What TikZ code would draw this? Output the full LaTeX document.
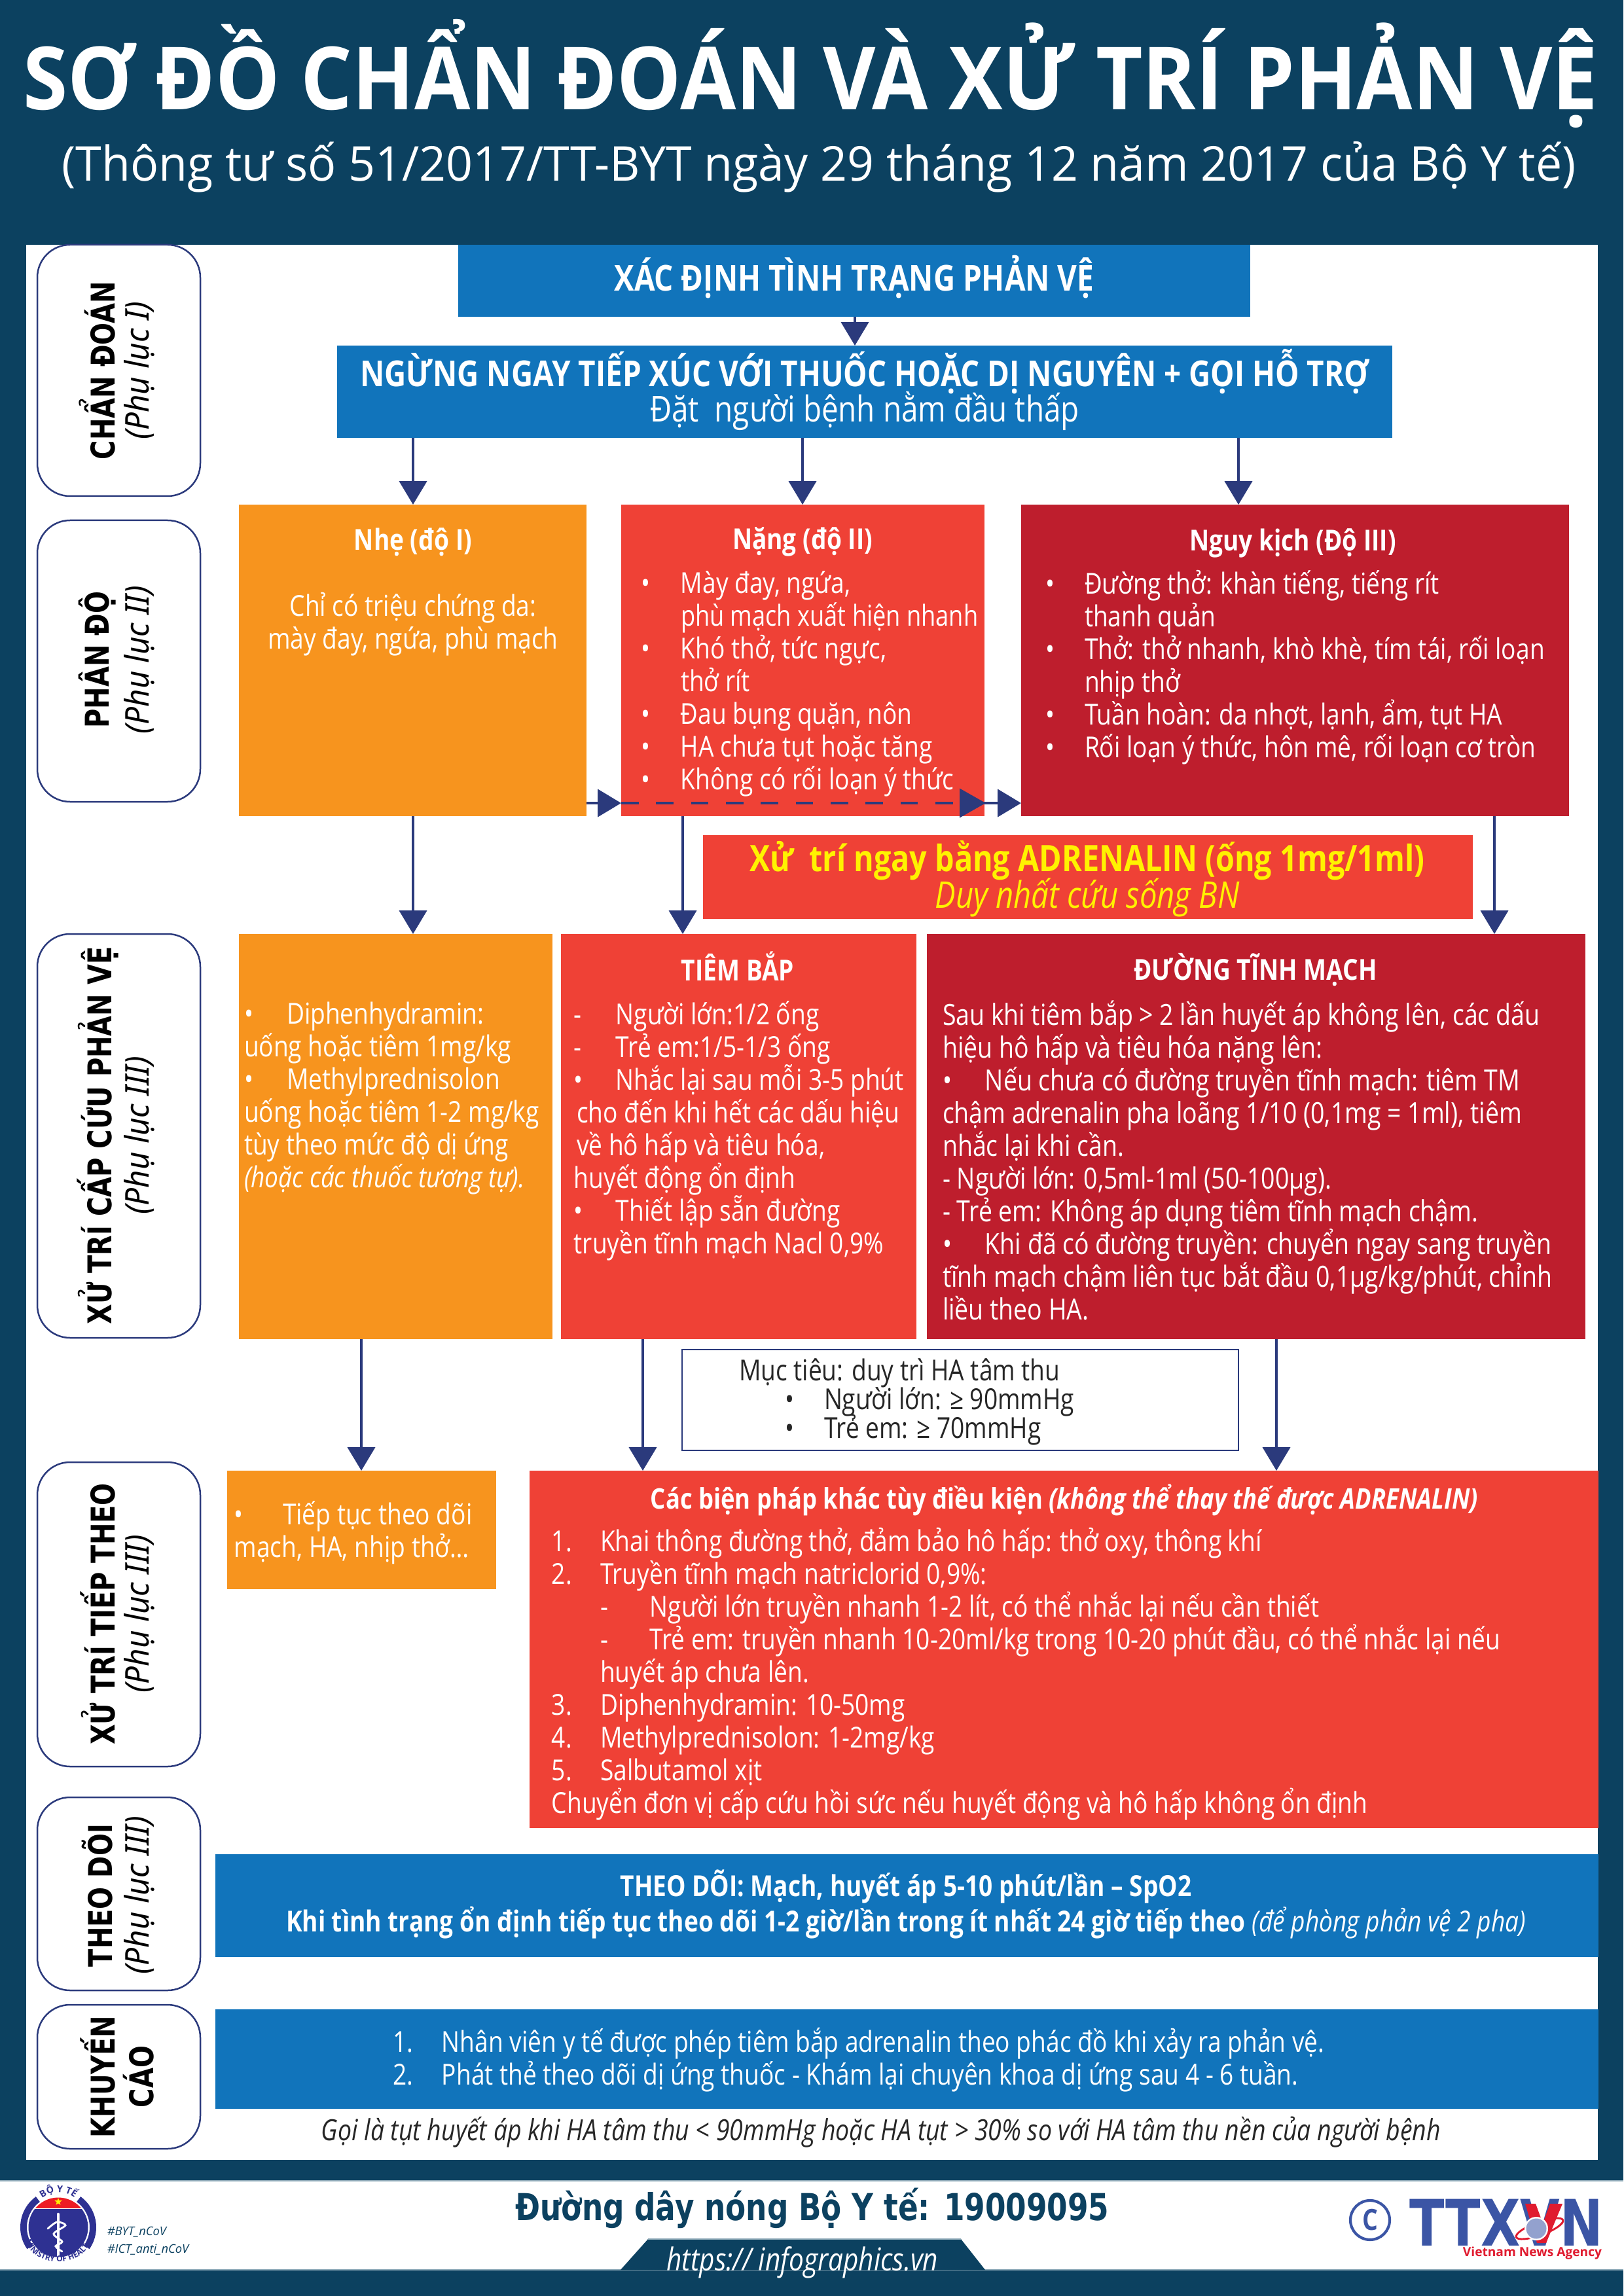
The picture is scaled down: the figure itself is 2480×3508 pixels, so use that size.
\documentclass[tikz,border=0pt]{standalone}
\usepackage{fontspec}
\usepackage{graphicx}
\usetikzlibrary{arrows.meta,decorations.text,shapes.geometric}
\setmainfont{Open Sans}[FakeStretch=0.84]
\newfontfamily\wideb{DejaVu Sans}[FakeStretch=0.8]
\newfontfamily\notoi{Noto Sans}[FakeStretch=0.95]
\newfontfamily\titlef{Open Sans}[FakeStretch=0.928]
\newfontfamily\subf{Open Sans}[FakeStretch=0.977]
\newfontfamily\plainf{Open Sans}
\definecolor{dk}{HTML}{0C4160}
\definecolor{org}{HTML}{F7941E}
\definecolor{rd}{HTML}{EF4136}
\definecolor{drd}{HTML}{BE1E2D}
\definecolor{blu}{HTML}{1174BB}
\definecolor{nvy}{HTML}{2B3A7C}
\definecolor{ylw}{HTML}{FFF200}
\definecolor{foot}{HTML}{8FAAB8}
\definecolor{logob}{HTML}{3B55A5}
\definecolor{logor}{HTML}{E01B2F}
\definecolor{mohb}{HTML}{2E3192}
\definecolor{mohr}{HTML}{ED1C24}
\lineskiplimit=-30pt
\newcommand{\bodyfont}{\fontsize{10.6}{12}\selectfont}
\newcommand{\bytfont}{\plainf\bfseries\fontsize{3.4}{4}\selectfont\color{mohb}}
\newcommand{\mohfont}{\plainf\bfseries\fontsize{2.9}{4}\selectfont\color{mohb}}
\tikzset{
  px/.style={x=0.24pt,y=-0.24pt},
  fbox/.style={fill=#1,draw=none,inner sep=0pt,outer sep=0pt},
  pill/.style={draw=nvy,line width=0.6pt,rounded corners=12pt,fill=white,inner sep=0pt,outer sep=0pt},
  arr/.style={draw=nvy,line width=1.15pt,-{Triangle[length=8.6pt,width=10pt,fill=nvy]},shorten >=0pt},
  dasharr/.style={draw=nvy,line width=1.15pt,dash pattern=on 6.4pt off 6.4pt},
  txt/.style={inner sep=0pt,outer sep=0pt,anchor=north west,align=left,text=white,font=\bodyfont,yshift=-1pt},
  txtd/.style={txt,text=black!85},
  ctr/.style={inner sep=0pt,outer sep=0pt,anchor=center,align=center,text=white},
  ttl/.style={ctr,font=\fontsize{10.6}{12}\selectfont\bfseries},
  lab/.style={inner sep=0pt,outer sep=0pt,rotate=90,anchor=center,text=black,font=\wideb\fontsize{12}{14}\selectfont\bfseries},
  lab2/.style={inner sep=0pt,outer sep=0pt,rotate=90,anchor=center,text=black,font=\notoi\fontsize{12}{14}\selectfont\itshape},
}
\newcommand{\bx}[6]{%
  \pgfmathsetmacro\myw{(#5-#3)*0.24}\pgfmathsetmacro\myh{(#6-#4)*0.24}%
  \node[#2,minimum width=\myw pt,minimum height=\myh pt,anchor=north west] (#1) at (#3,#4) {};}
\newcommand{\bl}[1]{\leavevmode\llap{\makebox[#1][l]{•}}}
\begin{document}
\begin{tikzpicture}[px]
\useasboundingbox (0,0) rectangle (2480,3508);
\fill[dk] (0,0) rectangle (2480,3508);
% panel
\bx{panel}{fbox=white}{40}{374}{2441}{3300}
% title
\node[inner sep=0pt,outer sep=0pt,anchor=base,text=white,font=\titlef\fontsize{32}{36}\selectfont\bfseries] (title) at (1238,168) {SƠ ĐỒ CHẨN ĐOÁN VÀ XỬ TRÍ PHẢN VỆ};
\node[inner sep=0pt,outer sep=0pt,anchor=base,text=white,font=\subf\fontsize{17.6}{22}\selectfont] (subtitle) at (1251,277) {(Thông tư số 51/2017/TT-BYT ngày 29 tháng 12 năm 2017 của Bộ Y tế)};
% pills
\bx{p1}{pill}{57}{374}{306}{758}
\bx{p2}{pill}{57}{795}{306}{1225}
\bx{p3}{pill}{57}{1427}{306}{2044}
\bx{p4}{pill}{57}{2234}{306}{2699}
\bx{p5}{pill}{57}{2746}{306}{3041}
\bx{p6}{pill}{57}{3063}{306}{3283}
\node[lab] (l1a) at (149,566) {CHẨN ĐOÁN};
\node[lab2] (l1b) at (213,566) {(Phụ lục I)};
\node[lab] (l2a) at (149,1008) {PHÂN ĐỘ};
\node[lab2] (l2b) at (213,1008) {(Phụ lục II)};
\node[lab] (l3a) at (149,1735) {XỬ TRÍ CẤP CỨU PHẢN VỆ};
\node[lab2] (l3b) at (213,1735) {(Phụ lục III)};
\node[lab] (l4a) at (149,2466) {XỬ TRÍ TIẾP THEO};
\node[lab2] (l4b) at (213,2466) {(Phụ lục III)};
\node[lab] (l5a) at (149,2896) {THEO DÕI};
\node[lab2] (l5b) at (213,2896) {(Phụ lục III)};
\node[lab] (l6a) at (149,3173) {KHUYẾN};
\node[lab] (l6b) at (212,3173) {CÁO};
% boxes
\bx{b1}{fbox=blu}{700}{374}{1910}{484}
\bx{b2}{fbox=blu}{515}{528}{2127}{669}
\bx{nhe}{fbox=org}{365}{771}{896}{1247}
\bx{nang}{fbox=rd}{949}{771}{1504}{1247}
\bx{nguy}{fbox=drd}{1560}{771}{2397}{1247}
\bx{adr}{fbox=rd}{1074}{1276}{2250}{1404}
\bx{or2}{fbox=org}{365}{1427}{844}{2046}
\bx{tb}{fbox=rd}{857}{1427}{1400}{2046}
\bx{tm}{fbox=drd}{1416}{1427}{2422}{2046}
\bx{muc}{draw=nvy,line width=0.5pt,fill=white,inner sep=0pt,outer sep=0pt}{1042}{2062}{1892}{2216}
\bx{tt}{fbox=org}{347}{2247}{758}{2428}
\bx{bp}{fbox=rd}{809}{2247}{2442}{2793}
\bx{td}{fbox=blu}{329}{2833}{2442}{2990}
\bx{kc}{fbox=blu}{329}{3070}{2442}{3222}
% connector x positions
\coordinate (xa) at (1306,0);
\coordinate (xb) at (631,0);
\coordinate (xc) at (1226,0);
\coordinate (xd) at (1892,0);
\coordinate (xe) at (1043,0);
\coordinate (xf) at (2283,0);
\coordinate (xg) at (552,0);
\coordinate (xh) at (982,0);
\coordinate (xi) at (1950,0);
\coordinate (yh) at (0,1227);
\draw[arr] (b1.south -| xa) -- (b2.north -| xa);
\draw[arr] (b2.south -| xb) -- (nhe.north -| xb);
\draw[arr] (b2.south -| xc) -- (nang.north -| xc);
\draw[arr] (b2.south -| xd) -- (nguy.north -| xd);
\draw[arr] (nhe.south -| xb) -- (or2.north -| xb);
\draw[arr] (nang.south -| xe) -- (tb.north -| xe);
\draw[arr] (nguy.south -| xf) -- (tm.north -| xf);
\draw[arr] (or2.south -| xg) -- (tt.north -| xg);
\draw[arr] (tb.south -| xh) -- (bp.north -| xh);
\draw[arr] (tm.south -| xi) -- (bp.north -| xi);
\draw[arr] (nhe.east |- yh) -- (nang.west |- yh);
\draw[dasharr] (nang.west |- yh) -- (nang.east |- yh);
\draw[nvy,fill=nvy] (1467,1206) -- (1504,1227) -- (1467,1248) -- cycle;
\draw[arr] (nang.east |- yh) -- (nguy.west |- yh);
% box texts
\node[ctr,font=\fontsize{13.1}{14}\selectfont\bfseries] (t1) at (1305,423) {XÁC ĐỊNH TÌNH TRẠNG PHẢN VỆ};
\node[ctr,font=\fontsize{13.1}{14}\selectfont\bfseries] (t2a) at (1321,568) {NGỪNG NGAY TIẾP XÚC VỚI THUỐC HOẶC DỊ NGUYÊN + GỌI HỖ TRỢ};
\node[ctr,font=\fontsize{13.1}{14}\selectfont] (t2b) at (1321,628) {Đặt\ \ người bệnh nằm đầu thấp};
\node[ttl] (t3) at (631,828) {Nhẹ (độ I)};
\node[txt,align=center,anchor=north] (t3b) at (631,901) {\strut Chỉ có triệu chứng da:\\mày đay, ngứa, phù mạch};
\node[ttl] (t4) at (1226,828) {Nặng (độ II)};
\node[txt] (t4b) at (1040,867) {\strut\bl{14.6pt}Mày đay, ngứa,\\\scalebox{.975}[1]{phù mạch xuất hiện nhanh}\\\bl{14.6pt}Khó thở, tức ngực,\\thở rít\\\bl{14.6pt}Đau bụng quặn, nôn\\\bl{14.6pt}HA chưa tụt hoặc tăng\\\bl{14.6pt}Không có rối loạn ý thức};
\node[ttl] (t5) at (1975,830) {Nguy kịch (Độ III)};
\node[txt] (t5b) at (1657,867) {\strut\bl{14.4pt}Đường thở: khàn tiếng, tiếng rít\\thanh quản\\\bl{14.4pt}Thở: thở nhanh, khò khè, tím tái, rối loạn\\nhịp thở\\\bl{14.4pt}Tuần hoàn: da nhợt, lạnh, ẩm, tụt HA\\\bl{14.4pt}Rối loạn ý thức, hôn mê, rối loạn cơ tròn};
\node[ctr,text=ylw,font=\fontsize{13.35}{14}\selectfont\bfseries] (t6a) at (1661,1315) {Xử\ \ trí ngay bằng ADRENALIN (ống 1mg/1ml)};
\node[ctr,text=ylw,font=\fontsize{13.5}{14}\selectfont\itshape] (t6b) at (1661,1371) {Duy nhất cứu sống BN};
% row 3
\node[txt] (t7) at (438,1525) {\strut\bl{15.6pt}Diphenhydramin:\\\hspace*{-15.6pt}uống hoặc tiêm 1mg/kg\\\bl{15.6pt}Methylprednisolon\\\hspace*{-15.6pt}uống hoặc tiêm 1-2 mg/kg\\\hspace*{-15.6pt}tùy theo mức độ dị ứng\\\hspace*{-15.6pt}\textit{(hoặc các thuốc tương tự).}};
\node[ttl] (t8) at (1127,1476) {TIÊM BẮP};
\node[txt] (t8b) at (941,1525) {\strut\llap{\makebox[15.4pt][l]{-}}Người lớn:1/2 ống\\\llap{\makebox[15.4pt][l]{-}}Trẻ em:1/5-1/3 ống\\\bl{15.4pt}Nhắc lại sau mỗi 3-5 phút\\\hspace*{-14.4pt}cho đến khi hết các dấu hiệu\\\hspace*{-14.4pt}về hô hấp và tiêu hóa,\\\hspace*{-15.4pt}huyết động ổn định\\\bl{15.4pt}Thiết lập sẵn đường\\\hspace*{-15.4pt}truyền tĩnh mạch Nacl 0,9\%};
\node[ttl] (t9) at (1918,1482) {ĐƯỜNG TĨNH MẠCH};
\node[txt,font=\fontsize{10.7}{12}\selectfont] (t9b) at (1440,1525) {\strut Sau khi tiêm bắp > 2 lần huyết áp không lên, các dấu\\hiệu hô hấp và tiêu hóa nặng lên:\\\hspace*{15.6pt}\bl{15.6pt}Nếu chưa có đường truyền tĩnh mạch: tiêm TM\\chậm adrenalin pha loãng 1/10 (0,1mg = 1ml), tiêm\\nhắc lại khi cần.\\- Người lớn: 0,5ml-1ml (50-100µg).\\- Trẻ em: Không áp dụng tiêm tĩnh mạch chậm.\\\hspace*{15.6pt}\bl{15.6pt}Khi đã có đường truyền: chuyển ngay sang truyền\\tĩnh mạch chậm liên tục bắt đầu 0,1µg/kg/phút, chỉnh\\liều theo HA.};
% muc tieu
\node[txtd] (t10) at (1129,2070) {\strut Mục tiêu: duy trì HA tâm thu};
\node[txtd] (t10b) at (1259,2114) {\strut\bl{14.4pt}Người lớn: ≥ 90mmHg\\[-1.4pt]\bl{14.4pt}Trẻ em: ≥ 70mmHg};
% tiep tuc
\node[txt] (t11) at (432,2289) {\strut\bl{17.8pt}Tiếp tục theo dõi\\\hspace*{-17.8pt}mạch, HA, nhịp thở…};
% bien phap
\node[ctr,font=\fontsize{10.4}{12}\selectfont\bfseries] (t12) at (1626,2292) {Các biện pháp khác tùy điều kiện \textit{(không thể thay thế được ADRENALIN)}};
\node[txt] (t12b) at (917,2330) {\strut\llap{\makebox[17.8pt][l]{1.}}Khai thông đường thở, đảm bảo hô hấp: thở oxy, thông khí\\\llap{\makebox[17.8pt][l]{2.}}Truyền tĩnh mạch natriclorid 0,9\%:\\\hspace*{18.2pt}\llap{\makebox[18.2pt][l]{-}}Người lớn truyền nhanh 1-2 lít, có thể nhắc lại nếu cần thiết\\\hspace*{18.2pt}\llap{\makebox[18.2pt][l]{-}}Trẻ em: truyền nhanh 10-20ml/kg trong 10-20 phút đầu, có thể nhắc lại nếu\\huyết áp chưa lên.\\\llap{\makebox[17.8pt][l]{3.}}Diphenhydramin: 10-50mg\\\llap{\makebox[17.8pt][l]{4.}}Methylprednisolon: 1-2mg/kg\\\llap{\makebox[17.8pt][l]{5.}}Salbutamol xịt\\\hspace*{-17.8pt}Chuyển đơn vị cấp cứu hồi sức nếu huyết động và hô hấp không ổn định};
% theo doi
\node[ttl] (t13) at (1384,2882) {THEO DÕI: Mạch, huyết áp 5-10 phút/lần – SpO2};
\node[ttl] (t13b) at (1384,2938) {Khi tình trạng ổn định tiếp tục theo dõi 1-2 giờ/lần trong ít nhất 24 giờ tiếp theo \mdseries\textit{(để phòng phản vệ 2 pha)}};
% khuyen cao
\node[txt] (t14) at (675,3094) {\strut\llap{\makebox[18pt][l]{1.}}Nhân viên y tế được phép tiêm bắp adrenalin theo phác đồ khi xảy ra phản vệ.\\\llap{\makebox[18pt][l]{2.}}Phát thẻ theo dõi dị ứng thuốc - Khám lại chuyên khoa dị ứng sau 4 - 6 tuần.};
\node[ctr,text=black!85,font=\fontsize{10.7}{12}\selectfont\itshape] (t15) at (1346,3258) {Gọi là tụt huyết áp khi HA tâm thu < 90mmHg hoặc HA tụt > 30\% so với HA tâm thu nền của người bệnh};
% footer
\fill[white] (0,3332) rectangle (2480,3468);
\draw[foot,line width=0.5pt] (0,3332) -- (2480,3332);
\draw[foot,line width=0.5pt] (0,3468) -- (2480,3468);
\fill[dk] (990,3421) -- (1468,3421) -- (1505,3468) -- (948,3468) -- cycle;
\draw[foot,line width=0.5pt] (990,3421) -- (1468,3421);
\node[ctr,text=dk,font=\wideb\fontsize{13.6}{16}\selectfont\bfseries] (t16) at (1241,3374) {Đường dây nóng Bộ Y tế: 19009095};
\node[ctr,font=\fontsize{11.6}{14}\selectfont\itshape] (t17) at (1226,3457) {https:// infographics.vn};
% ministry logo
\draw[mohb,line width=2.4pt] plot[domain=126:215,samples=30] ({89+53*cos(\x)},{3403-53*sin(\x)});
\draw[mohb,line width=2.4pt] plot[domain=-35:54,samples=30] ({89+53*cos(\x)},{3403-53*sin(\x)});
\begin{scope}
\clip (20,3335) rectangle (160,3373);
\fill[mohr] (89,3403) circle (45.5);
\end{scope}
\begin{scope}
\clip (20,3375) rectangle (160,3460);
\fill[mohb] (89,3403) circle (45.5);
\end{scope}
\node[star,star points=5,star point ratio=2.4,fill=ylw,inner sep=0pt,minimum size=2.8pt] (star) at (89,3364) {};
\draw[white,line width=1.1pt,line cap=round] (89,3383) -- (89,3446);
\draw[white,line width=0.7pt,line cap=round] plot[smooth] coordinates {(73,3405) (87,3395) (100,3400) (82,3413) (95,3425) (85,3432) (95,3440)};
\path[decorate,decoration={text along path,text align=center,text={|\bytfont|BỘ Y TẾ}}] (58,3364) .. controls (75,3345) and (103,3345) .. (120,3364);
\path[decorate,decoration={text along path,text align=center,text={|\mohfont|MINISTRY OF HEALTH}}] (44,3434) .. controls (62,3463) and (116,3463) .. (134,3434);
\node[inner sep=0pt,anchor=west,text=dk,font=\plainf\fontsize{4.4}{6}\selectfont\itshape] (h1) at (163,3410) {\#BYT\_nCoV};
\node[inner sep=0pt,anchor=west,text=dk,font=\plainf\fontsize{4.4}{6}\selectfont\itshape] (h2) at (163,3437) {\#ICT\_anti\_nCoV};
% TTXVN
\node[circle,draw=logob,line width=1pt,minimum size=14.4pt,inner sep=0pt,text=logob,font=\fontsize{10.7}{12}\selectfont\bfseries] (cr) at (2093,3392) {C};
\node[inner sep=0pt,outer sep=0pt,anchor=base east,text=logob,font=\wideb\fontsize{23.5}{28}\selectfont\bfseries] (ttx) at (2449,3431) {TTXVN};
\fill[logor] (2330,3367) -- (2346,3367) -- (2357,3397) -- (2368,3367) -- (2387,3367) -- (2362,3427) -- (2348,3427) -- cycle;
\draw[logor,line width=0.7pt,rotate around={20:(2352,3405)}] (2352,3405) ellipse (38 and 10);
\fill[white] (2347,3405) circle (18);
\fill[logob!55!white] (2347,3405) circle (15.5);
\node[inner sep=0pt,outer sep=0pt,anchor=base east,text=logor,font=\plainf\fontsize{4.6}{6}\selectfont\bfseries] (vna) at (2447,3447) {Vietnam News Agency};
\end{tikzpicture}
\end{document}
